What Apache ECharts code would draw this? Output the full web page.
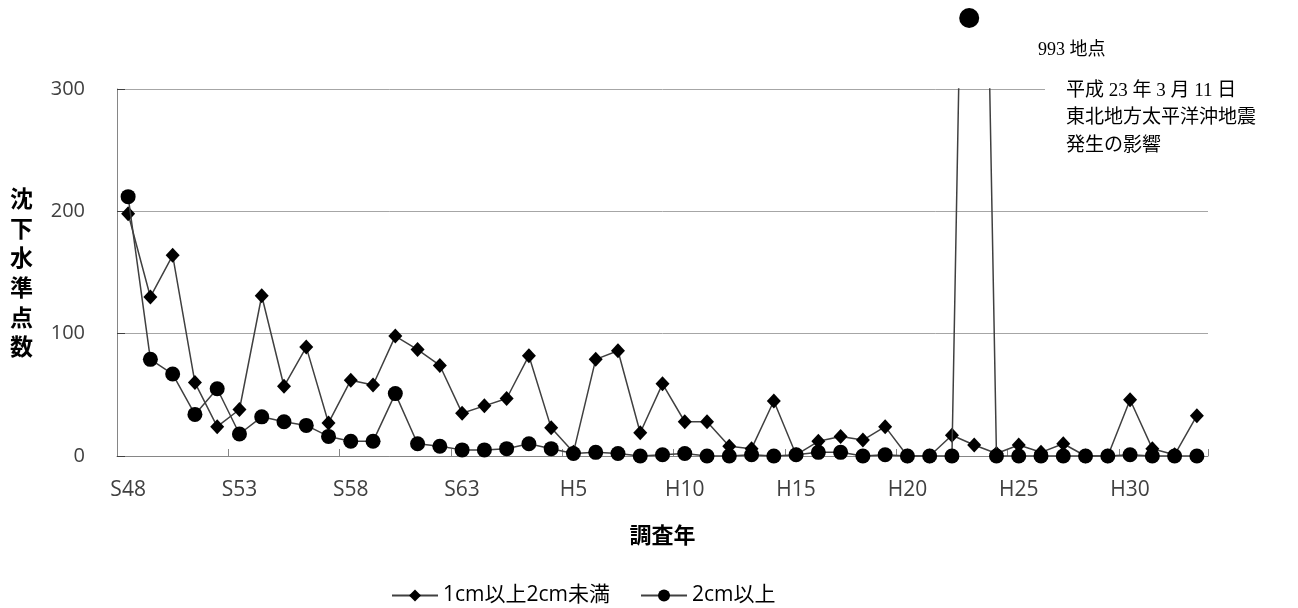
<!DOCTYPE html>
<html>
<head>
<meta charset="utf-8">
<script src="https://cdn.jsdelivr.net/npm/echarts@6/dist/echarts.min.js"></script>
<style>html,body{margin:0;padding:0;background:#fff}#c{width:1298px;height:608px}</style>
</head>
<body>
<div id="c"></div>
<script>
const categories = [
  'S48','S49','S50','S51','S52','S53','S54','S55','S56','S57','S58','S59','S60','S61','S62','S63',
  'H1','H2','H3','H4','H5','H6','H7','H8','H9','H10','H11','H12','H13','H14','H15','H16','H17','H18','H19','H20',
  'H21','H22','H23','H24','H25','H26','H27','H28','H29','H30','H31','H32','H33'
];
const series1Name = '1cm以上2cm未満';
const series2Name = '2cm以上';
const series1 = [198,130,164,60,24,38,131,57,89,27,62,58,98,87,74,35,41,47,82,23,3,79,86,19,59,28,28,8,6,45,1,12,16,13,24,0,0,17,9,2,9,3,10,0,0,46,6,1,33];
const series2 = [212,79,67,34,55,18,32,28,25,16,12,12,51,10,8,5,5,6,10,6,2,3,2,0,1,2,0,0,1,0,1,3,3,0,1,0,0,0,993,0,0,0,0,0,0,1,0,0,0];
const yTicks = [0, 100, 200, 300];
const offscaleIndex = 38;
const offscaleLabel = '993 地点';
const noteLines = ['平成 23 年 3 月 11 日', '東北地方太平洋沖地震', '発生の影響'];

const chart = echarts.init(document.getElementById('c'));
const sans = "'Open Sans','Noto Sans CJK JP',sans-serif";
const cjk = "'Noto Sans CJK JP',sans-serif";
const serif = "'Liberation Serif','Noto Sans CJK JP',serif";
const option = {
  animation: false,
  backgroundColor: '#fff',
  grid: { left: 117, right: 90, top: 89, bottom: 152, containLabel: false },
  legend: {
    left: 386, top: 580,
    itemWidth: 46, itemHeight: 15, itemGap: 30,
    textStyle: { fontFamily: sans, fontSize: 21, color: '#000' },
    data: [series1Name, series2Name]
  },
  xAxis: {
    type: 'category',
    data: categories,
    boundaryGap: true,
    name: '調査年',
    nameLocation: 'middle',
    nameGap: 68,
    nameTextStyle: { fontFamily: cjk, fontSize: 22, fontWeight: 'bold', color: '#000' },
    axisLine: { lineStyle: { color: '#868686', width: 1 } },
    axisTick: { show: true, inside: true, length: 7, interval: 4, lineStyle: { color: '#868686' } },
    axisLabel: { interval: 4, margin: 24, fontFamily: sans, fontSize: 21, color: '#404040' },
    splitLine: { show: false }
  },
  yAxis: {
    type: 'value',
    min: yTicks[0], max: yTicks[yTicks.length - 1], interval: 100,
    name: '沈\n下\n水\n準\n点\n数',
    nameLocation: 'middle',
    nameRotate: 0,
    nameGap: 84,
    nameTextStyle: { fontFamily: cjk, fontSize: 23, fontWeight: 'bold', color: '#000', lineHeight: 29.6 },
    axisLine: { show: true, lineStyle: { color: '#868686', width: 1 } },
    axisTick: { show: true, inside: true, length: 8, lineStyle: { color: '#404040' } },
    axisLabel: { margin: 32, fontFamily: sans, fontSize: 20, color: '#404040' },
    splitLine: { show: true, lineStyle: { color: '#a6a6a6', width: 1 } }
  },
  series: [
    {
      name: series1Name, type: 'line', data: series1,
      symbol: 'diamond', symbolSize: [14, 15], showAllSymbol: true,
      itemStyle: { color: '#000' },
      lineStyle: { color: '#404040', width: 1.5 },
      z: 3
    },
    {
      name: series2Name, type: 'line', data: series2,
      symbol: 'circle', symbolSize: 15, showAllSymbol: true,
      itemStyle: { color: '#000' },
      lineStyle: { color: '#404040', width: 1.5 },
      clip: true,
      z: 4
    }
  ]
};
chart.setOption(option);

const px = chart.convertToPixel({ xAxisIndex: 0 }, categories[offscaleIndex]);
chart.setOption({
  graphic: [
    { type: 'rect', z: 100, shape: { x: 1045, y: 78, width: 253, height: 90 }, style: { fill: '#fff' } },
    { type: 'circle', z: 101, shape: { cx: px - 5, cy: 18, r: 10 }, style: { fill: '#000' } },
    { type: 'text', z: 101, x: 1038, y: 41, style: { text: offscaleLabel, font: '18px ' + serif, fill: '#000' } },
    { type: 'text', z: 101, x: 1066, y: 77, style: { text: noteLines.join('\n'), font: '19px ' + serif, fill: '#000', lineHeight: 27.5 } }
  ]
});
</script>
</body>
</html>
